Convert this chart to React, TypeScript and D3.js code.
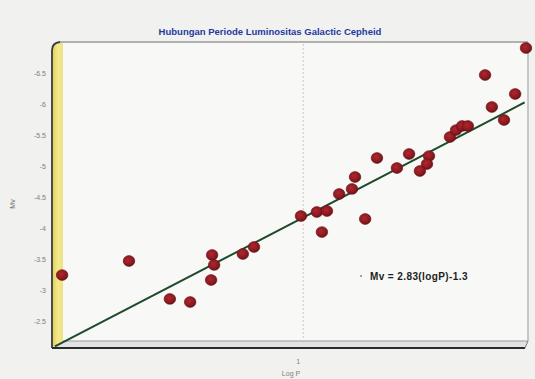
import React from "react";
import * as d3 from "d3";

const title = "Hubungan Periode Luminositas Galactic Cepheid";
const xLabel = "Log P";
const yLabel = "Mv";
const equationText = "Mv = 2.83(logP)-1.3";

const logP = [
  0.301, 0.499, 0.62, 0.68, 0.745, 0.751, 0.742, 0.836, 0.869, 1.008, 1.055,
  1.085, 1.07, 1.121, 1.159, 1.168, 1.198, 1.233, 1.292, 1.328, 1.387, 1.381,
  1.36, 1.449, 1.467, 1.485, 1.502, 1.553, 1.573, 1.609, 1.642, 1.674,
];
const mv = [
  -3.244, -3.47, -2.858, -2.809, -3.567, -3.406, -3.164, -3.583, -3.696,
  -4.195, -4.26, -4.276, -3.937, -4.55, -4.631, -4.824, -4.147, -5.13, -4.969,
  -5.195, -5.162, -5.033, -4.921, -5.469, -5.581, -5.646, -5.646, -6.468,
  -5.952, -5.743, -6.162, -6.903,
];

const yTicks = [-6.5, -6, -5.5, -5, -4.5, -4, -3.5, -3, -2.5];
const xTicks = [1];
const fitSlope = -2.83;
const fitIntercept = -1.3;
const fitRange = [0.28, 1.67];

export default function App() {
  const W = 535;
  const H = 379;
  const left = 55;
  const right = 528;
  const top = 42;
  const bottom = 346;

  const x = d3.scaleLinear().domain([0.28, 1.68]).range([left, right]);
  const y = d3.scaleLinear().domain([-2.1, -7]).range([bottom, top]);

  const fitPts: [number, number][] = fitRange.map((l) => [
    x(l),
    y(fitSlope * l + fitIntercept),
  ]);
  const line = d3.line();

  const points = logP.map((l, i) => ({ cx: x(l), cy: y(mv[i]) }));

  return (
    <svg
      width={W}
      height={H}
      style={{ position: "absolute", left: 0, top: 0, display: "block" }}
      fontFamily="'Liberation Sans', Arial, sans-serif"
    >
      <defs>
        <radialGradient id="ball" cx="42%" cy="40%" r="65%">
          <stop offset="0%" stopColor="#b0262e" />
          <stop offset="65%" stopColor="#8a1a20" />
          <stop offset="100%" stopColor="#5e0e13" />
        </radialGradient>
        <linearGradient id="wall" x1="0" x2="1" y1="0" y2="0">
          <stop offset="0%" stopColor="#e6d25a" />
          <stop offset="50%" stopColor="#f6ea8c" />
          <stop offset="100%" stopColor="#ece08a" />
        </linearGradient>
      </defs>
      <rect x={0} y={0} width={W} height={H} fill="#f1f1f0" />
      <rect x={63} y={top} width={right - 63} height={341 - top} fill="#f8f8f7" />
      <polygon
        points={`53,348 63,341 ${right},341 ${right - 3},348`}
        fill="#e2e2e2"
      />
      <polygon points={`53,46 63,${top} 63,341 53,348`} fill="url(#wall)" />
      <line x1={60} y1={top} x2={right} y2={top} stroke="#9a9a9a" strokeWidth={1.5} />
      <line x1={right} y1={top} x2={right} y2={341} stroke="#a8a8a8" strokeWidth={1.2} />
      <path d={`M52,348 L52,50 Q52,43 60,${top}`} fill="none" stroke="#3a3a3a" strokeWidth={1.8} />
      <line x1={63} y1={341} x2={right} y2={341} stroke="#9a9a9a" strokeWidth={1} />
      <line x1={52} y1={348} x2={right - 3} y2={348} stroke="#2a2a2a" strokeWidth={2} />
      <line x1={right - 3} y1={348} x2={right} y2={341} stroke="#777" strokeWidth={1} />
      {xTicks.map((t) => (
        <line
          key={t}
          x1={x(t) + 5}
          x2={x(t) + 5}
          y1={top + 2}
          y2={341}
          stroke="#c8c8c8"
          strokeWidth={1}
          strokeDasharray="2,2"
        />
      ))}
      <text
        x={270}
        y={35}
        textAnchor="middle"
        fontSize={9.5}
        fontWeight="bold"
        fill="#1f3a9e"
      >
        {title}
      </text>
      {yTicks.map((t) => (
        <text
          key={t}
          x={46}
          y={y(t) + 2.5}
          textAnchor="end"
          fontSize={7}
          fill="#7e7e7e"
        >
          {t}
        </text>
      ))}
      <text
        x={15}
        y={204}
        textAnchor="middle"
        fontSize={7}
        fill="#6e6e6e"
        transform="rotate(-90 15 204)"
      >
        {yLabel}
      </text>
      {xTicks.map((t) => (
        <text key={t} x={x(t)} y={364} textAnchor="middle" fontSize={7} fill="#7e7e7e">
          {t}
        </text>
      ))}
      <text x={291} y={376} textAnchor="middle" fontSize={7} fill="#7e7e7e">
        {xLabel}
      </text>
      <path d={line(fitPts) || ""} stroke="#1d4a2a" strokeWidth={2} fill="none" />
      {points.map((p, i) => (
        <ellipse
          key={i}
          cx={p.cx}
          cy={p.cy}
          rx={5.8}
          ry={5.4}
          fill="url(#ball)"
          stroke="#6a1016"
          strokeWidth={0.6}
        />
      ))}
      <circle cx={361} cy={276} r={1} fill="#888" />
      <text x={370} y={280} fontSize={10} fontWeight="bold" fill="#1e1e1e" letterSpacing={0.4}>
        {equationText}
      </text>
    </svg>
  );
}
